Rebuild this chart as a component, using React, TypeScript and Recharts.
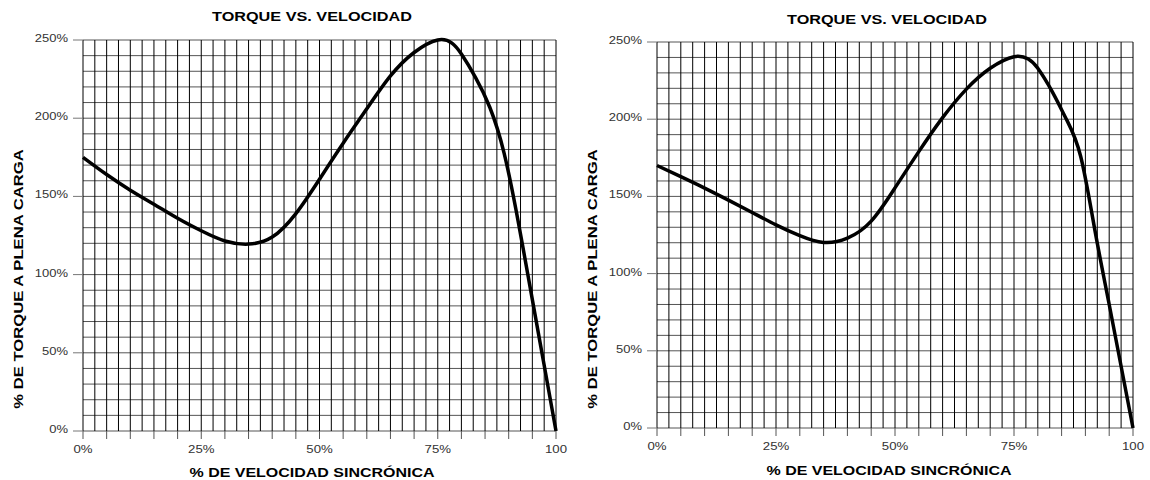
import { LineChart, Line, XAxis, YAxis, CartesianGrid } from "recharts";

const speed = [0, 5, 10, 15, 20, 25, 30, 35, 40, 45, 50, 55, 60, 65, 70, 75, 78, 80, 83, 86, 89, 92, 95, 97.5, 100];
const torqueLeft = [175, 164, 154, 145, 136, 128, 121.5, 119.5, 124, 139, 161, 184, 206, 227, 242, 250, 248, 241, 226, 207, 178, 134, 84, 42, 0];
const torqueRight = [170, 162.8, 155.4, 147.6, 139.6, 131.6, 124.6, 120.2, 123, 134, 155.5, 179, 201, 219.5, 233, 240.5, 239, 233, 218, 200, 176, 128, 80, 40, 0];

// grid every 2.5 % of speed and 10 % of torque
const xTicks = Array.from({ length: 41 }, (_, i) => i * 2.5);
const yTicks = Array.from({ length: 26 }, (_, i) => i * 10);
const xLabels: Record<number, string> = { 0: "0%", 25: "25%", 50: "50%", 75: "75%", 100: "100" };

const title = "TORQUE VS. VELOCIDAD";
const xTitle = "% DE VELOCIDAD SINCRÓNICA";
const yTitle = "% DE TORQUE A PLENA CARGA";

const FONT = "'Liberation Sans', Arial, sans-serif";

function XTick({ x, y, payload }: any) {
  const v = payload.value;
  return (
    <g>
      {v % 5 === 0 && <line x1={x} x2={x} y1={y} y2={y + 8} stroke="#555" />}
      {xLabels[v] && (
        <text
          transform={`translate(${x},${y + 22}) scale(1.2,1)`}
          textAnchor="middle"
          fontSize={11}
          fill="#333"
          fontFamily={FONT}
        >
          {xLabels[v]}
        </text>
      )}
    </g>
  );
}

function YTick({ x, y, payload }: any) {
  const v = payload.value;
  if (v % 50 !== 0) return <g />;
  return (
    <g>
      <line x1={x - 10} x2={x} y1={y} y2={y} stroke="#777" />
      <text
        transform={`translate(${x - 15},${y + 2}) scale(1.18,1)`}
        textAnchor="end"
        fontSize={11}
        fill="#333"
        fontFamily={FONT}
      >
        {v}%
      </text>
    </g>
  );
}

interface ChartProps {
  torque: number[];
  left: number;
  plot: { left: number; right: number; top: number; bottom: number };
  titleAt: [number, number];
  xTitleAt: [number, number];
  yTitleAt: [number, number];
}

function TorqueChart({ torque, left, plot, titleAt, xTitleAt, yTitleAt }: ChartProps) {
  const data = speed.map((s, i) => ({ speed: s, torque: torque[i] }));
  const W = 575;
  const H = 480;
  return (
    <div style={{ position: "absolute", left, top: 0, width: W, height: H }}>
      <LineChart
        width={W}
        height={H}
        data={data}
        margin={{ top: plot.top, left: plot.left - 1, right: W - plot.right, bottom: H - plot.bottom - 1 }}
      >
        <CartesianGrid vertical={false} stroke="#555" strokeWidth={1} />
        <CartesianGrid horizontal={false} stroke="#000" strokeWidth={1} />
        <XAxis
          dataKey="speed"
          type="number"
          domain={[0, 100]}
          ticks={xTicks}
          interval={0}
          height={1}
          tickSize={0}
          tickMargin={0}
          axisLine={false}
          tick={(p: any) => <XTick {...p} />}
        />
        <YAxis
          type="number"
          domain={[0, 250]}
          ticks={yTicks}
          interval={0}
          width={1}
          tickSize={0}
          tickMargin={0}
          axisLine={false}
          tick={(p: any) => <YTick {...p} />}
        />
        <Line
          type="natural"
          dataKey="torque"
          stroke="#000"
          strokeWidth={3.5}
          dot={false}
          isAnimationActive={false}
        />
      </LineChart>
      <svg
        width={W}
        height={H}
        style={{ position: "absolute", left: 0, top: 0, pointerEvents: "none" }}
        fontFamily={FONT}
        fontWeight="bold"
      >
        <text transform={`translate(${titleAt[0]},${titleAt[1]}) scale(1.3,1)`} textAnchor="middle" fontSize={12.5}>
          {title}
        </text>
        <text transform={`translate(${xTitleAt[0]},${xTitleAt[1]}) scale(1.23,1)`} textAnchor="middle" fontSize={13}>
          {xTitle}
        </text>
        <text
          transform={`translate(${yTitleAt[0]},${yTitleAt[1]}) rotate(-90) scale(1.28,1)`}
          textAnchor="middle"
          fontSize={13}
        >
          {yTitle}
        </text>
      </svg>
    </div>
  );
}

export default function App() {
  return (
    <div style={{ position: "absolute", left: 0, top: 0, width: 1150, height: 480, background: "#fff" }}>
      <TorqueChart
        torque={torqueLeft}
        left={0}
        plot={{ left: 83, right: 556, top: 40, bottom: 431 }}
        titleAt={[312, 21]}
        xTitleAt={[312, 477]}
        yTitleAt={[23, 279]}
      />
      <TorqueChart
        torque={torqueRight}
        left={575}
        plot={{ left: 82, right: 558, top: 42, bottom: 428 }}
        titleAt={[312, 24]}
        xTitleAt={[314, 475]}
        yTitleAt={[22, 279]}
      />
    </div>
  );
}
